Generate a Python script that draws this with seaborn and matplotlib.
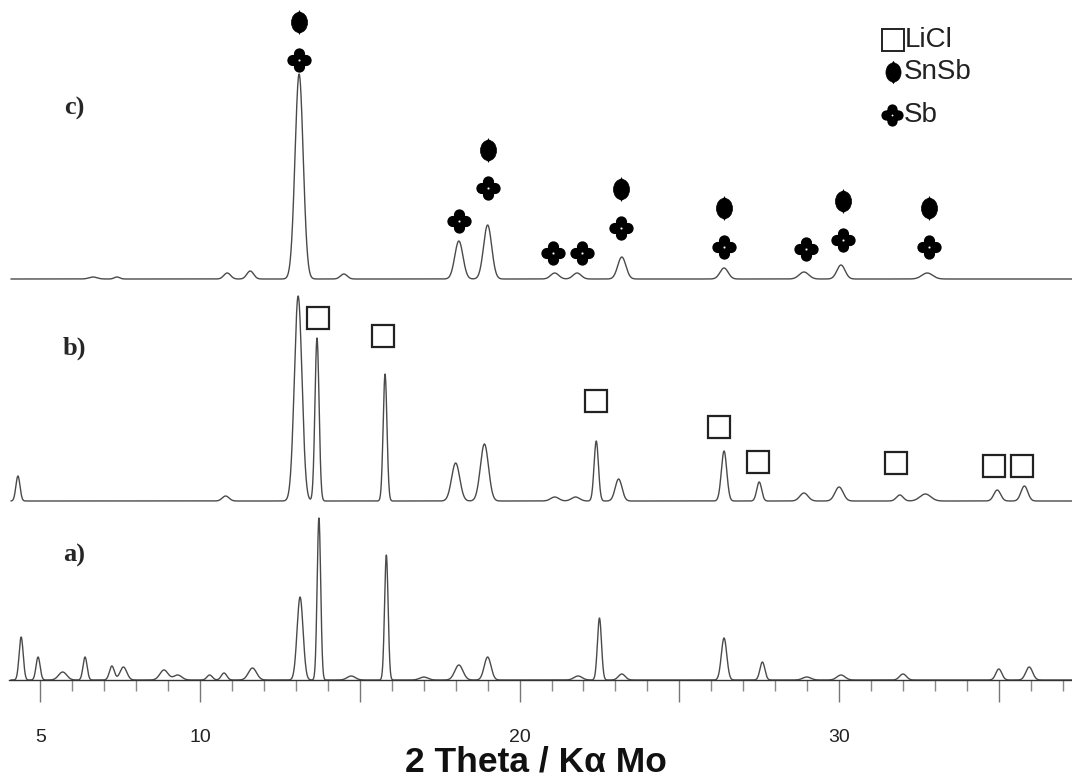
import numpy as np
import matplotlib.pyplot as plt
from matplotlib.path import Path
from matplotlib.transforms import Affine2D
import seaborn as sns

# ---- data (2theta in deg, height in px above baseline, fwhm in deg)
peaks_c = [(6.65, 2, 0.3), (7.4, 2, 0.2), (10.85, 6, 0.25), (11.57, 8, 0.25),
           (13.1, 205, 0.3), (14.5, 5, 0.25), (18.1, 38, 0.3), (19.0, 54, 0.3),
           (21.1, 6, 0.3), (21.8, 6, 0.3), (23.2, 22, 0.3), (26.4, 11, 0.3),
           (28.9, 7, 0.35), (30.06, 14, 0.3), (32.76, 6, 0.4)]
peaks_b = [(4.3, 25, 0.15), (10.8, 5, 0.25), (13.07, 205, 0.28), (13.66, 163, 0.15),
           (15.79, 127, 0.14), (18.0, 38, 0.3), (18.9, 57, 0.3), (21.1, 4, 0.3),
           (21.75, 4, 0.3), (22.4, 60, 0.16), (23.1, 22, 0.25), (26.4, 50, 0.2),
           (27.5, 19, 0.18), (28.9, 8, 0.3), (30.0, 14, 0.3), (31.9, 6, 0.25),
           (32.7, 7, 0.4), (34.95, 11, 0.25), (35.8, 15, 0.25)]
peaks_a = [(4.4, 43, 0.15), (4.93, 23, 0.15), (5.7, 8, 0.3), (6.4, 23, 0.15),
           (7.24, 14, 0.18), (7.6, 13, 0.25), (8.87, 10, 0.3), (9.3, 5, 0.3),
           (10.3, 5, 0.2), (10.75, 7, 0.2), (11.64, 12, 0.3), (13.13, 83, 0.22),
           (13.72, 162, 0.13), (14.73, 4, 0.3), (15.83, 125, 0.13), (17.0, 3, 0.3),
           (18.1, 15, 0.3), (19.0, 23, 0.25), (21.83, 4, 0.3), (22.5, 62, 0.15),
           (23.2, 6, 0.25), (26.4, 42, 0.2), (27.6, 18, 0.18), (28.99, 3, 0.3),
           (30.06, 5, 0.3), (32.0, 6, 0.25), (35.0, 11, 0.22), (35.95, 13, 0.25)]

# vertical offset of each pattern (px above the axis)
offsets = {"a": 0, "b": 179, "c": 401}

# phase markers: 2theta and height (px above the axis)
snsb_x = [13.10, 19.02, 23.18, 26.40, 30.13, 32.82]
snsb_y = [658, 530, 491, 472, 479, 472]
sb_x = [13.10, 18.11, 19.02, 21.05, 21.96, 23.18, 26.40, 28.97, 30.13, 32.82]
sb_y = [620, 459, 492, 427, 427, 452, 433, 431, 440, 433]
licl_x = [13.69, 15.73, 22.39, 26.24, 27.47, 31.79, 34.85, 35.73]
licl_y = [362, 344, 279, 253, 218, 217, 214, 214]

tick_major = [5, 10, 15, 20, 25, 30, 35]
tick_labels = ["5", "10", "", "20", "", "30", ""]

# ---- style
sns.set_style("white")
plt.rcParams["font.family"] = ["Liberation Sans", "DejaVu Sans"]

W, H = 1072, 783
fig = plt.figure(figsize=(W / 100, H / 100), dpi=100)
ax = fig.add_axes([9 / W, (H - 680) / H, (W - 9) / W, 680 / H])
ax.set_xlim(4.02, 37.29)
ax.set_ylim(0, 680)

x = np.linspace(4.08, 37.29, 5000)


def profile(peaks, base):
    y = np.full_like(x, float(base))
    for pos, h, fwhm in peaks:
        s = fwhm / 2.3548
        y += h * np.exp(-0.5 * ((x - pos) / s) ** 2)
    return y


for key, pk in [("a", peaks_a), ("b", peaks_b), ("c", peaks_c)]:
    sns.lineplot(x=x, y=profile(pk, offsets[key]), ax=ax, color="#4a4a4a",
                 linewidth=1.0, sort=False, estimator=None)

# marker shapes
clover = Path.make_compound_path(*[Path.circle((cx, cy), 0.46)
                                   for cx, cy in [(0, 0.54), (0.54, 0), (0, -0.54), (-0.54, 0)]])
oval = Path.unit_circle().transformed(Affine2D().scale(0.68, 0.86))
tips = Path([(0, -1), (0.45, 0), (0, 1), (-0.45, 0), (0, -1)], [1, 2, 2, 2, 79])
blob = Path.make_compound_path(oval, tips)

ax.plot(snsb_x, snsb_y, ls="none", marker=blob, ms=17, mfc="black", mec="black",
        mew=0.5, clip_on=False)
ax.plot(sb_x, sb_y, ls="none", marker=clover, ms=17.5, mfc="black", mec="none", clip_on=False)
ax.plot(licl_x, licl_y, ls="none", marker="s", ms=15.5, mfc="white", mec="#222222",
        mew=1.6, clip_on=False)


# legend drawn by hand (pixel positions)
def fx(px):
    return px / W


def fy(py):
    return 1 - py / H


fig.add_artist(plt.Line2D([fx(893)], [fy(40)], ls="none", marker="s", ms=15.5,
                          mfc="white", mec="#222222", mew=1.4, transform=fig.transFigure))
fig.add_artist(plt.Line2D([fx(893)], [fy(72)], ls="none", marker=blob, ms=16,
                          mfc="black", mec="black", mew=0.5, transform=fig.transFigure))
fig.add_artist(plt.Line2D([fx(892)], [fy(115)], ls="none", marker=clover, ms=16,
                          mfc="black", mec="none", transform=fig.transFigure))
for txt, px, py in [("LiCl", 905, 40), ("SnSb", 904, 72), ("Sb", 904, 115)]:
    fig.text(fx(px), fy(py), txt, fontsize=20, color="#222222", va="center", ha="left")

# pattern labels
for txt, py in [("c)", 108), ("b)", 348), ("a)", 555)]:
    fig.text(fx(74), fy(py), txt, fontsize=19, fontweight="bold",
             family="Liberation Serif", ha="center", va="center")

# axis styling
for side in ["left", "right", "top"]:
    ax.spines[side].set_visible(False)
ax.spines["bottom"].set_color("#333333")
ax.spines["bottom"].set_linewidth(1.0)
ax.set_yticks([])
ax.set_xticks(tick_major)
ax.set_xticklabels(tick_labels)
ax.set_xticks(np.arange(5, 38), minor=True)
ax.tick_params(axis="x", which="major", direction="out", length=16, width=1.0,
               color="#777777", pad=19, labelsize=14, labelcolor="#222222", bottom=True)
ax.tick_params(axis="x", which="minor", direction="out", length=8, width=1.0,
               color="#888888", bottom=True)
fig.text(fx(536), fy(762), "2 Theta / K\u03b1 Mo", fontsize=25.5, fontweight="bold",
         ha="center", va="center", color="#111111")

fig.savefig("out.png", dpi=100, facecolor="white")
